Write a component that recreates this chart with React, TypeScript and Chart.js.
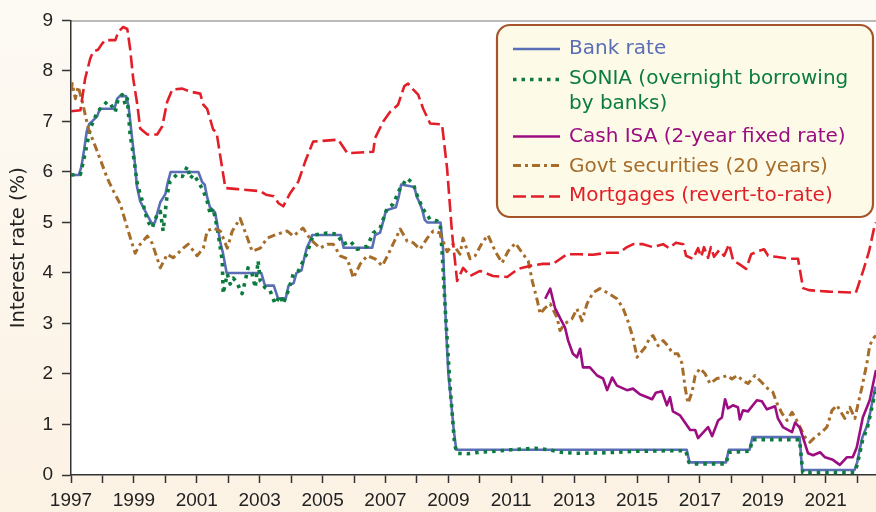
import React, { useEffect, useRef } from 'react';
import { Chart, registerables } from 'chart.js';

Chart.register(...registerables);

// ---------------- DATA ----------------
const xMin = 1997;
const xMax = 2022.6;
const yMin = 0;
const yMax = 9;

const bankYears = [1997.0, 1997.25, 1997.33, 1997.42, 1997.5, 1997.58, 1997.67, 1997.83, 1997.92, 1998.38, 1998.47, 1998.55, 1998.75, 1998.83, 1998.92, 1999.02, 1999.1, 1999.2, 1999.3, 1999.42, 1999.58, 1999.67, 1999.75, 1999.84, 2000.0, 2000.08, 2000.17, 2001.05, 2001.17, 2001.25, 2001.33, 2001.42, 2001.58, 2001.67, 2001.75, 2001.83, 2001.95, 2003.05, 2003.17, 2003.45, 2003.58, 2003.83, 2003.92, 2004.08, 2004.17, 2004.33, 2004.42, 2004.5, 2004.58, 2004.67, 2005.58, 2005.67, 2006.58, 2006.67, 2006.83, 2006.92, 2007.0, 2007.08, 2007.33, 2007.42, 2007.5, 2007.92, 2008.0, 2008.08, 2008.17, 2008.25, 2008.33, 2008.75, 2008.83, 2008.92, 2009.0, 2009.08, 2009.17, 2009.25, 2016.58, 2016.67, 2017.83, 2017.92, 2018.58, 2018.67, 2020.17, 2020.25, 2021.92, 2022.0, 2022.08, 2022.17, 2022.33, 2022.42, 2022.58];
const bankRates = [5.94, 5.94, 6.1, 6.45, 6.8, 6.95, 7.0, 7.1, 7.25, 7.25, 7.45, 7.5, 7.5, 7.3, 6.8, 6.25, 5.7, 5.42, 5.3, 5.15, 4.97, 5.0, 5.2, 5.4, 5.56, 5.8, 6.0, 6.0, 5.8, 5.75, 5.5, 5.3, 5.2, 4.9, 4.6, 4.4, 4.0, 4.0, 3.75, 3.75, 3.5, 3.5, 3.75, 3.8, 4.0, 4.05, 4.3, 4.5, 4.6, 4.75, 4.75, 4.5, 4.5, 4.75, 4.8, 5.0, 5.2, 5.25, 5.3, 5.5, 5.75, 5.7, 5.5, 5.4, 5.25, 5.05, 5.0, 5.0, 4.5, 3.0, 2.0, 1.5, 0.9, 0.5, 0.5, 0.25, 0.25, 0.5, 0.5, 0.75, 0.75, 0.1, 0.1, 0.25, 0.5, 0.75, 1.0, 1.25, 1.75];

const soniaYears = [1997.0, 1997.3, 1997.45, 1997.61, 1997.84, 1997.93, 1998.15, 1998.25, 1998.41, 1998.5, 1998.63, 1998.73, 1998.79, 1998.88, 1998.98, 1999.11, 1999.27, 1999.43, 1999.58, 1999.74, 1999.84, 1999.93, 2000.06, 2000.15, 2000.37, 2000.54, 2000.7, 2000.79, 2000.89, 2001.05, 2001.21, 2001.33, 2001.43, 2001.52, 2001.65, 2001.75, 2001.81, 2001.84, 2001.97, 2002.06, 2002.16, 2002.28, 2002.44, 2002.54, 2002.63, 2002.76, 2002.86, 2002.95, 2003.02, 2003.17, 2003.33, 2003.49, 2003.65, 2003.75, 2003.91, 2004.07, 2004.23, 2004.51, 2004.7, 2005.15, 2005.46, 2005.66, 2005.88, 2006.1, 2006.42, 2006.61, 2006.83, 2007.05, 2007.24, 2007.47, 2007.69, 2007.88, 2008.04, 2008.2, 2008.42, 2008.65, 2008.74, 2008.8, 2008.9, 2009.05, 2009.2, 2009.28, 2009.6, 2010.0, 2010.5, 2011.0, 2011.5, 2011.75, 2012.2, 2012.6, 2013.0, 2014.0, 2015.0, 2016.0, 2016.55, 2016.65, 2016.75, 2017.83, 2017.92, 2018.58, 2018.67, 2020.17, 2020.27, 2021.92, 2022.0, 2022.08, 2022.17, 2022.33, 2022.42, 2022.58];
const soniaRates = [5.94, 5.95, 6.37, 6.86, 7.19, 7.25, 7.39, 7.35, 7.19, 7.45, 7.53, 7.33, 7.45, 6.74, 6.35, 5.75, 5.42, 5.03, 4.89, 5.16, 5.22, 4.83, 5.56, 5.81, 5.95, 5.91, 6.11, 5.87, 5.95, 5.81, 5.62, 5.42, 5.16, 5.28, 4.89, 4.49, 4.24, 3.59, 3.98, 3.78, 3.9, 3.8, 3.59, 3.84, 4.1, 3.98, 3.71, 4.24, 3.84, 3.71, 3.65, 3.39, 3.55, 3.39, 3.65, 3.98, 4.04, 4.4, 4.75, 4.79, 4.77, 4.57, 4.63, 4.47, 4.53, 4.79, 4.89, 5.28, 5.36, 5.68, 5.87, 5.77, 5.48, 5.26, 5.06, 5.03, 4.97, 4.43, 3.3, 1.8, 0.6, 0.43, 0.42, 0.45, 0.47, 0.5, 0.52, 0.53, 0.5, 0.45, 0.43, 0.44, 0.47, 0.48, 0.48, 0.25, 0.22, 0.22, 0.45, 0.47, 0.7, 0.7, 0.05, 0.05, 0.2, 0.42, 0.68, 0.95, 1.2, 1.65];

const isaYears = [2012.08, 2012.24, 2012.39, 2012.55, 2012.71, 2012.81, 2012.96, 2013.09, 2013.19, 2013.28, 2013.5, 2013.73, 2013.92, 2014.05, 2014.21, 2014.36, 2014.68, 2014.87, 2015.09, 2015.48, 2015.6, 2015.79, 2015.95, 2016.05, 2016.14, 2016.37, 2016.69, 2016.85, 2016.94, 2017.26, 2017.39, 2017.58, 2017.7, 2017.8, 2017.89, 2018.05, 2018.21, 2018.27, 2018.37, 2018.53, 2018.81, 2018.97, 2019.13, 2019.39, 2019.48, 2019.64, 2019.93, 2020.03, 2020.18, 2020.44, 2020.6, 2020.82, 2020.98, 2021.23, 2021.45, 2021.67, 2021.86, 2021.99, 2022.18, 2022.4, 2022.6];
const isaRates = [3.49, 3.69, 3.31, 3.11, 2.92, 2.66, 2.4, 2.33, 2.5, 2.13, 2.13, 1.97, 1.91, 1.68, 1.93, 1.77, 1.68, 1.71, 1.6, 1.5, 1.63, 1.66, 1.38, 1.54, 1.26, 1.18, 0.89, 0.89, 0.73, 0.95, 0.77, 1.08, 1.14, 1.5, 1.32, 1.38, 1.34, 1.1, 1.28, 1.26, 1.48, 1.46, 1.3, 1.36, 1.12, 0.95, 0.85, 1.04, 0.93, 0.43, 0.39, 0.45, 0.35, 0.3, 0.2, 0.35, 0.35, 0.55, 1.14, 1.48, 2.08];

const govtYears = [1997.0, 1997.04, 1997.14, 1997.23, 1997.36, 1997.55, 1997.84, 1998.15, 1998.35, 1998.57, 1998.79, 1999.04, 1999.2, 1999.43, 1999.58, 1999.84, 2000.06, 2000.25, 2000.57, 2000.73, 2001.01, 2001.21, 2001.33, 2001.52, 2001.75, 2001.97, 2002.13, 2002.38, 2002.61, 2002.76, 2003.02, 2003.24, 2003.56, 2003.88, 2004.07, 2004.38, 2004.61, 2004.92, 2005.15, 2005.34, 2005.56, 2005.79, 2005.98, 2006.2, 2006.42, 2006.67, 2006.9, 2007.09, 2007.24, 2007.47, 2007.69, 2007.88, 2008.1, 2008.33, 2008.52, 2008.74, 2008.96, 2009.15, 2009.37, 2009.47, 2009.69, 2009.85, 2010.07, 2010.26, 2010.49, 2010.71, 2010.9, 2011.13, 2011.38, 2011.54, 2011.67, 2011.83, 2011.92, 2012.08, 2012.24, 2012.46, 2012.55, 2012.71, 2012.93, 2013.09, 2013.25, 2013.41, 2013.6, 2013.82, 2014.05, 2014.36, 2014.55, 2014.71, 2014.87, 2015.0, 2015.09, 2015.25, 2015.41, 2015.51, 2015.67, 2015.83, 2015.98, 2016.14, 2016.3, 2016.43, 2016.53, 2016.62, 2016.75, 2016.85, 2017.0, 2017.16, 2017.32, 2017.54, 2017.7, 2017.86, 2018.02, 2018.18, 2018.37, 2018.53, 2018.75, 2018.97, 2019.16, 2019.32, 2019.45, 2019.61, 2019.77, 2019.93, 2020.03, 2020.18, 2020.34, 2020.5, 2020.66, 2020.88, 2021.04, 2021.2, 2021.36, 2021.45, 2021.61, 2021.77, 2021.93, 2022.02, 2022.15, 2022.31, 2022.4, 2022.5, 2022.6];
const govtRates = [7.6, 7.75, 7.45, 7.69, 7.39, 6.86, 6.4, 5.88, 5.62, 5.36, 4.89, 4.39, 4.57, 4.73, 4.59, 4.1, 4.37, 4.3, 4.49, 4.57, 4.34, 4.49, 4.83, 4.89, 4.83, 4.49, 4.83, 5.08, 4.69, 4.43, 4.49, 4.69, 4.77, 4.83, 4.73, 4.89, 4.67, 4.49, 4.57, 4.57, 4.34, 4.28, 3.9, 4.18, 4.34, 4.28, 4.14, 4.37, 4.57, 4.87, 4.63, 4.6, 4.47, 4.69, 4.83, 4.79, 4.42, 4.57, 4.37, 4.69, 4.28, 4.34, 4.59, 4.75, 4.43, 4.2, 4.43, 4.59, 4.37, 4.24, 3.84, 3.45, 3.19, 3.31, 3.39, 3.11, 2.86, 3.0, 3.09, 3.29, 3.05, 3.39, 3.61, 3.69, 3.61, 3.49, 3.31, 3.05, 2.72, 2.33, 2.4, 2.52, 2.72, 2.76, 2.56, 2.66, 2.56, 2.4, 2.4, 2.21, 1.73, 1.42, 1.64, 1.97, 2.11, 2.01, 1.81, 1.91, 1.93, 1.97, 1.9, 1.97, 1.87, 1.81, 1.97, 1.83, 1.71, 1.64, 1.42, 1.22, 1.08, 1.24, 1.14, 0.95, 0.75, 0.65, 0.75, 0.85, 0.95, 1.28, 1.38, 1.28, 1.12, 1.34, 1.12, 1.38, 1.73, 2.21, 2.56, 2.7, 2.76];

const mortYears = [1997.0, 1997.3, 1997.45, 1997.61, 1997.7, 1997.86, 1997.99, 1998.09, 1998.41, 1998.5, 1998.66, 1998.79, 1998.88, 1998.98, 1999.11, 1999.2, 1999.43, 1999.74, 1999.9, 2000.06, 2000.22, 2000.54, 2000.79, 2001.11, 2001.21, 2001.33, 2001.52, 2001.63, 2001.75, 2001.91, 2002.3, 2003.02, 2003.2, 2003.45, 2003.6, 2003.75, 2003.97, 2004.23, 2004.45, 2004.7, 2005.5, 2005.79, 2006.61, 2006.67, 2006.93, 2007.15, 2007.4, 2007.6, 2007.72, 2007.85, 2008.04, 2008.2, 2008.42, 2008.8, 2008.96, 2009.12, 2009.28, 2009.47, 2009.69, 2010.01, 2010.42, 2010.87, 2011.22, 2011.59, 2012.01, 2012.33, 2012.77, 2013.19, 2013.6, 2014.05, 2014.43, 2014.65, 2014.88, 2015.19, 2015.51, 2015.83, 2016.02, 2016.24, 2016.47, 2016.56, 2016.78, 2016.94, 2017.04, 2017.13, 2017.26, 2017.35, 2017.45, 2017.61, 2017.77, 2017.93, 2018.06, 2018.24, 2018.47, 2018.63, 2018.85, 2019.04, 2019.17, 2019.42, 2019.84, 2020.12, 2020.28, 2020.47, 2021.11, 2021.96, 2022.19, 2022.38, 2022.54, 2022.6];
const mortRates = [7.2, 7.22, 7.85, 8.24, 8.38, 8.42, 8.54, 8.61, 8.61, 8.77, 8.87, 8.83, 8.44, 7.84, 7.33, 6.86, 6.74, 6.74, 6.9, 7.39, 7.63, 7.65, 7.59, 7.55, 7.33, 7.25, 6.84, 6.78, 6.3, 5.68, 5.66, 5.62, 5.55, 5.52, 5.38, 5.32, 5.58, 5.81, 6.21, 6.6, 6.64, 6.37, 6.4, 6.67, 7.0, 7.19, 7.33, 7.7, 7.75, 7.65, 7.53, 7.25, 6.96, 6.94, 6.07, 4.77, 3.84, 4.1, 3.94, 4.04, 3.94, 3.92, 4.08, 4.14, 4.18, 4.18, 4.37, 4.37, 4.36, 4.4, 4.4, 4.5, 4.57, 4.57, 4.51, 4.57, 4.49, 4.6, 4.57, 4.34, 4.28, 4.49, 4.32, 4.51, 4.3, 4.51, 4.32, 4.45, 4.34, 4.57, 4.24, 4.18, 4.08, 4.37, 4.43, 4.47, 4.34, 4.32, 4.28, 4.28, 3.7, 3.66, 3.63, 3.61, 4.04, 4.43, 4.89, 5.0];

const seriesLabels = ['Bank rate', 'SONIA (overnight borrowing|by banks)', 'Cash ISA (2-year fixed rate)', 'Govt securities (20 years)', 'Mortgages (revert-to-rate)'];
const yTitle = 'Interest rate (%)';

// ---------------- STYLE ----------------
const COLORS = {
  bank: '#5a6eb6',
  sonia: '#0b7c3e',
  isa: '#9b0d80',
  govt: '#a66c2a',
  mort: '#e21e28',
};
const DASHES = {
  bank: [] as number[],
  sonia: [3.5, 5],
  isa: [] as number[],
  govt: [8, 4, 3, 4],
  mort: [13, 5],
};
const WIDTHS = { bank: 2.6, sonia: 3.6, isa: 2.6, govt: 3, mort: 2.6 };

const pts = (xs: number[], ys: number[]) => xs.map((x, i) => ({ x, y: ys[i] }));

const LEGEND_FONT = '20px "DejaVu Sans"';

const bgPlugin = {
  id: 'bgPlugin',
  beforeDraw(chart: any) {
    const { ctx, chartArea } = chart;
    ctx.save();
    ctx.fillStyle = '#ffffff';
    ctx.fillRect(chartArea.left, chartArea.top, chartArea.right - chartArea.left, chartArea.bottom - chartArea.top);
    ctx.strokeStyle = '#a3a3a3';
    ctx.lineWidth = 1.5;
    ctx.beginPath();
    ctx.moveTo(chartArea.left, chartArea.top + 0.5);
    ctx.lineTo(chartArea.right, chartArea.top + 0.5);
    ctx.stroke();
    ctx.restore();
  },
};

const legendPlugin = {
  id: 'boxLegend',
  afterDraw(chart: any) {
    const { ctx } = chart;
    ctx.save();
    const bx = 497, by = 25, bw = 376, bh = 192;
    ctx.beginPath();
    ctx.roundRect(bx, by, bw, bh, 13);
    ctx.fillStyle = '#fdfbe8';
    ctx.fill();
    ctx.lineWidth = 2.2;
    ctx.strokeStyle = '#a5552a';
    ctx.stroke();

    const keys = ['bank', 'sonia', 'isa', 'govt', 'mort'] as const;
    const lineYs = [49, 79.5, 136.5, 165.5, 196.5];
    const baseYs = [53.5, 83.5, 141.5, 171.5, 200.5];
    ctx.font = LEGEND_FONT;
    ctx.textBaseline = 'alphabetic';
    keys.forEach((k, i) => {
      ctx.beginPath();
      ctx.setLineDash(DASHES[k]);
      ctx.lineWidth = WIDTHS[k];
      ctx.strokeStyle = COLORS[k];
      ctx.lineCap = 'butt';
      ctx.moveTo(513, lineYs[i]);
      ctx.lineTo(560, lineYs[i]);
      ctx.stroke();
      ctx.setLineDash([]);
      ctx.fillStyle = COLORS[k];
      const lines = seriesLabels[i].split('|');
      lines.forEach((t, j) => ctx.fillText(t, 569, baseYs[i] + j * 25));
    });
    ctx.restore();
  },
};

export default function App() {
  const ref = useRef<HTMLCanvasElement>(null);
  useEffect(() => {
    const mk = (key: keyof typeof COLORS, xs: number[], ys: number[], order: number) => ({
      data: pts(xs, ys),
      borderColor: COLORS[key],
      borderWidth: WIDTHS[key],
      borderDash: DASHES[key],
      borderCapStyle: 'butt',
      borderJoinStyle: 'round',
      pointRadius: 0,
      tension: 0,
      fill: false,
      order,
    });
    const chart = new Chart(ref.current as HTMLCanvasElement, {
      type: 'line',
      data: {
        datasets: [
          mk('bank', bankYears, bankRates, 5),
          mk('sonia', soniaYears, soniaRates, 4),
          mk('govt', govtYears, govtRates, 3),
          mk('isa', isaYears, isaRates, 2),
          mk('mort', mortYears, mortRates, 1),
        ] as any,
      },
      options: {
        animation: false,
        responsive: false,
        maintainAspectRatio: false,
        layout: { padding: { top: 18, left: 0, right: 0, bottom: 0 } },
        plugins: { legend: { display: false }, tooltip: { enabled: false } },
        scales: {
          x: {
            type: 'linear',
            min: xMin,
            max: xMax,
            afterFit: (s: any) => { s.height = 37; },
            ticks: {
              stepSize: 1,
              includeBounds: false,
              autoSkip: false,
              maxRotation: 0,
              minRotation: 0,
              padding: 6,
              color: '#222',
              font: { family: '"Liberation Sans", Arial, sans-serif', size: 19 },
              callback: (v: any) => {
                const n = Math.round(Number(v));
                return (n - xMin) % 2 === 0 ? String(n) : '';
              },
            },
            grid: { drawOnChartArea: false, drawTicks: true, tickLength: 8, tickColor: '#333', tickWidth: 1.5 },
            border: { display: true, color: '#333', width: 1.5 },
          },
          y: {
            min: yMin,
            max: yMax,
            afterFit: (s: any) => { s.width = 71; },
            ticks: {
              stepSize: 1,
              padding: 9,
              color: '#222',
              font: { family: '"Liberation Sans", Arial, sans-serif', size: 19 },
            },
            grid: { drawOnChartArea: false, drawTicks: true, tickLength: 9, tickColor: '#333', tickWidth: 1.5 },
            border: { display: true, color: '#333', width: 1.5 },
            title: {
              display: true,
              text: yTitle,
              color: '#222',
              font: { family: '"DejaVu Sans", sans-serif', size: 19.5 },
              padding: { top: 7, bottom: 0 },
            },
          },
        },
      } as any,
      plugins: [bgPlugin, legendPlugin],
    });
    return () => chart.destroy();
  }, []);

  return (
    <div
      style={{
        position: 'fixed',
        left: 0,
        top: 0,
        width: 876,
        height: 512,
        background: 'linear-gradient(to bottom, #fdfaf4, #fcf2e4)',
      }}
    >
      <canvas ref={ref} width={876} height={512} style={{ display: 'block', width: 876, height: 512 }} />
    </div>
  );
}
